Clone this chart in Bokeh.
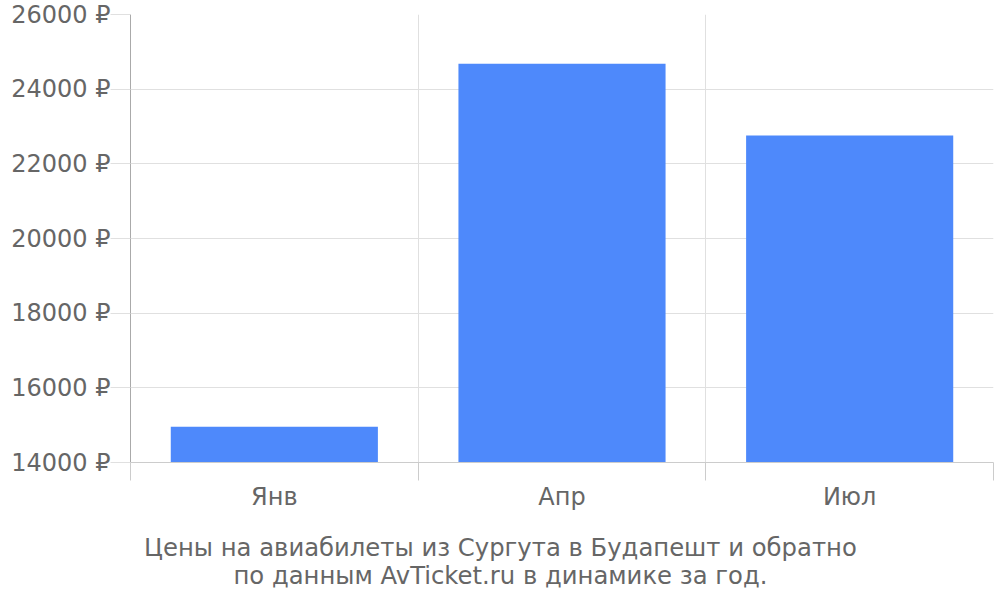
from bokeh.plotting import figure
from bokeh.models import FixedTicker, Range1d, LinearAxis, ColumnDataSource
from bokeh.embed import file_html
from bokeh.resources import INLINE

months = ["Янв", "Апр", "Июл"]
prices = [14960, 24680, 22760]
y_ticks = [14000, 16000, 18000, 20000, 22000, 24000, 26000]
title_lines = ["Цены на авиабилеты из Сургута в Будапешт и обратно",
               "по данным AvTicket.ru в динамике за год."]

FONT = "DejaVu Sans"
TEXT = "#666666"
GRID = "#e0e0e0"
FS = "24px"

p = figure(frame_width=863, frame_height=448,
           x_range=Range1d(0, len(months)), y_range=Range1d(y_ticks[0], y_ticks[-1]),
           output_backend="svg", toolbar_location=None,
           min_border_left=130, min_border_top=14, min_border_right=5, min_border_bottom=5,
           background_fill_color="white", border_fill_color="white")
p.outline_line_color = None

xs = [i + 0.5 for i in range(len(months))]
src = ColumnDataSource(dict(x=xs, top=prices))
p.vbar(x="x", top="top", bottom=y_ticks[0], width=0.72, source=src,
       fill_color="#4e89fb", line_color=None)

# x axis: labels at centres, ticks at boundaries (minor ticks)
xa = p.xaxis[0]
xa.ticker = FixedTicker(ticks=xs, minor_ticks=list(range(len(months) + 1)))
xa.major_label_overrides = {x: m for x, m in zip(xs, months)}
xa.major_tick_line_color = None
xa.major_tick_out = 0
xa.major_tick_in = 0
xa.minor_tick_out = 18
xa.minor_tick_in = 0
xa.minor_tick_line_color = "#cccccc"
xa.axis_line_color = "#cccccc"
xa.major_label_standoff = 2
xa.major_label_text_font = FONT
xa.major_label_text_font_size = FS
xa.major_label_text_color = TEXT

p.xgrid.ticker = FixedTicker(ticks=list(range(len(months) + 1)))
p.xgrid.grid_line_color = GRID

ya = p.yaxis[0]
ya.ticker = FixedTicker(ticks=y_ticks)
ya.major_label_overrides = {v: f"{v} ₽" for v in y_ticks}
ya.major_tick_out = 20
ya.major_tick_in = 0
ya.major_tick_line_color = GRID
ya.minor_tick_line_color = None
ya.axis_line_color = "#aaaaaa"
ya.major_label_standoff = 0
ya.major_label_text_font = FONT
ya.major_label_text_font_size = FS
ya.major_label_text_color = TEXT

p.ygrid.ticker = FixedTicker(ticks=y_ticks)
p.ygrid.grid_line_color = GRID

# caption lines below the chart, centred on the page (as tick labels of bare axes)
caption_x = 1.286
standoffs = [19, -4]
for line, so in zip(title_lines, standoffs):
    ax = LinearAxis(ticker=FixedTicker(ticks=[caption_x], minor_ticks=[]),
                    major_label_overrides={caption_x: line},
                    axis_line_color=None, major_tick_line_color=None,
                    minor_tick_line_color=None, major_tick_out=0, major_tick_in=0,
                    minor_tick_out=0, minor_tick_in=0,
                    major_label_standoff=so, major_label_text_font=FONT,
                    major_label_text_font_size="24.3px", major_label_text_color=TEXT)
    p.add_layout(ax, "below")

open("out.html", "w").write(file_html(p, INLINE))
